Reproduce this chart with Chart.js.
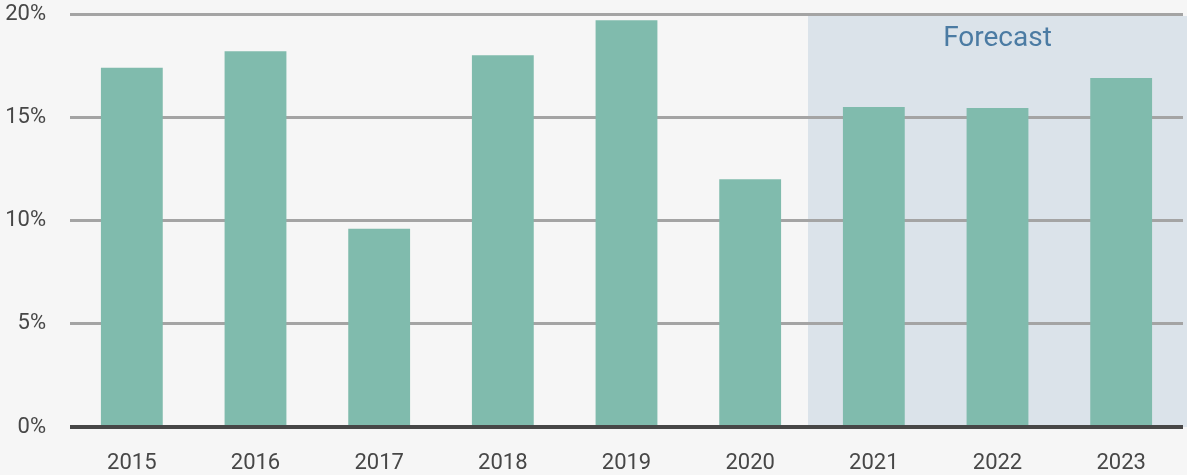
<!DOCTYPE html>
<html>
<head>
<meta charset="utf-8">
<script src="https://cdn.jsdelivr.net/npm/chart.js@4"></script>
<style>
    body { margin: 0; background: #f6f6f6; }
    #wrap { width: 1187px; height: 475px; position: relative; }
</style>
</head>
<body>
<div id="wrap"><canvas id="growth-chart"></canvas></div>
<script>
// Chart data
const years = ['2015', '2016', '2017', '2018', '2019', '2020', '2021', '2022', '2023'];
const growthRates = [17.4, 18.2, 9.6, 18.0, 19.7, 12.0, 15.5, 15.45, 16.9];
const yTicks = [0, 5, 10, 15, 20];
const forecastStart = '2021';
const forecastLabel = 'Forecast';

/**
 * Shade the forecast years and write the label
 */
const forecastShade = {
    id: 'forecastShade',
    beforeDraw(chart) {
        const ctx = chart.ctx;
        const x = chart.scales.x;
        const area = chart.chartArea;
        const idx = years.indexOf(forecastStart);
        // left edge sits between the last actual bar and the first forecast bar
        const left = (x.getPixelForValue(idx - 1) + x.getPixelForValue(idx)) / 2 - 4;
        const right = chart.width;
        const top = area.top + 2;

        ctx.save();
        ctx.fillStyle = '#dbe3ea';
        ctx.fillRect(left, top, right - left, area.bottom - top);

        ctx.fillStyle = '#4b7ba3';
        ctx.font = '28px Roboto';
        ctx.textAlign = 'center';
        ctx.textBaseline = 'alphabetic';
        ctx.fillText(forecastLabel, (left + right) / 2, top + 30);
        ctx.restore();
    }
};

function createGrowthChart() {
    const ctx = document.getElementById('growth-chart').getContext('2d');

    window.growthChart = new Chart(ctx, {
        type: 'bar',
        data: {
            labels: years,
            datasets: [{
                data: growthRates,
                backgroundColor: '#80bbad',
                borderWidth: 0,
                categoryPercentage: 1,
                barPercentage: 0.5
            }]
        },
        options: {
            responsive: true,
            maintainAspectRatio: false,
            animation: false,
            layout: {
                padding: { top: 14, right: 4, left: 0, bottom: 0 }
            },
            plugins: {
                legend: { display: false },
                tooltip: { enabled: false }
            },
            scales: {
                x: {
                    grid: { display: false },
                    border: { display: false },
                    ticks: {
                        color: '#474747',
                        font: { family: 'Roboto', size: 22 },
                        padding: 15,
                        maxRotation: 0
                    },
                    afterFit(scale) {
                        scale.height = 48;
                        scale.paddingLeft = 0;
                        scale.paddingRight = 0;
                    }
                },
                y: {
                    min: 0,
                    max: 20,
                    afterBuildTicks(scale) {
                        scale.ticks = yTicks.map(v => ({ value: v }));
                    },
                    border: { display: false },
                    grid: {
                        drawTicks: false,
                        color: c => c.tick && c.tick.value === 0 ? '#474747' : '#a4a4a4',
                        lineWidth: c => c.tick && c.tick.value === 0 ? 4 : 3
                    },
                    ticks: {
                        color: '#474747',
                        font: { family: 'Roboto', size: 22 },
                        padding: 24,
                        callback: v => v + '%'
                    },
                    afterFit(scale) {
                        scale.width = 70;
                        scale.paddingTop = 0;
                        scale.paddingBottom = 0;
                    }
                }
            }
        },
        plugins: [forecastShade]
    });
}

createGrowthChart();
</script>
</body>
</html>
